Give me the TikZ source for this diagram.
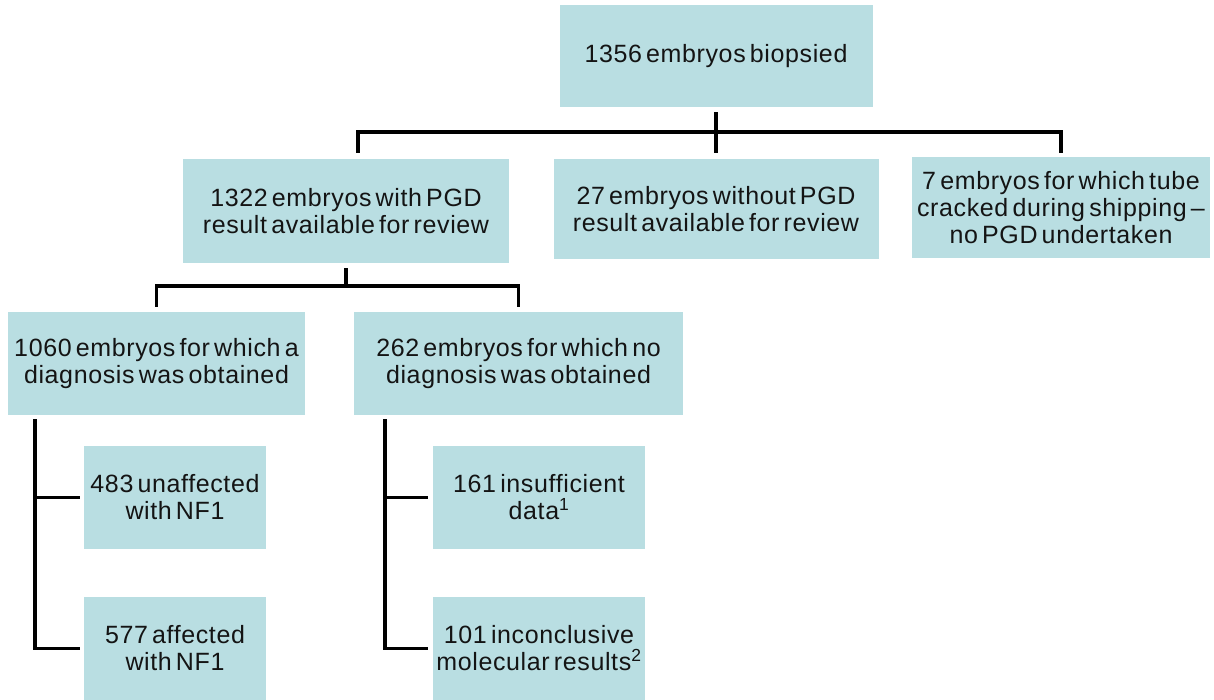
\documentclass[tikz,border=0pt]{standalone}
\usepackage{fontspec}
\setmainfont[WordSpace=0.55, LetterSpace=2.5]{Liberation Sans}
\definecolor{boxfill}{RGB}{185,222,226}
\definecolor{txt}{RGB}{20,20,20}
\begin{document}
\begin{tikzpicture}[x=1pt,y=-1pt,
  box/.style={rectangle, fill=boxfill, draw=none, inner sep=0pt, align=center,
    text=txt, font=\fontsize{25}{27}\selectfont},
  conn/.style={draw=black, line width=3.2pt}]
\useasboundingbox (0,0) rectangle (1214,700);
\fill[white] (0,0) rectangle (1214,700);
% boxes
\node[box, minimum width=313pt, minimum height=102pt] (top) at (716,56) {1356 embryos biopsied};
\node[box, minimum width=326pt, minimum height=104pt] (pgd) at (346,211) {1322 embryos with PGD\\result available for review};
\node[box, minimum width=325pt, minimum height=100pt] (nopgd) at (716,209) {27 embryos without PGD\\result available for review};
\node[box, minimum width=298pt, minimum height=101pt] (crack) at (1061,207.5) {7 embryos for which tube\\cracked during shipping --\\no PGD undertaken};
\node[box, minimum width=297pt, minimum height=103pt] (diag) at (156.5,363.5) {1060 embryos for which a\\diagnosis was obtained};
\node[box, minimum width=329pt, minimum height=103pt] (nodiag) at (518.5,363.5) {262 embryos for which no\\diagnosis was obtained};
\node[box, minimum width=182pt, minimum height=103pt] (unaff) at (175,497.5) {483 unaffected\\with NF1};
\node[box, minimum width=182pt, minimum height=103pt] (aff) at (175,648.5) {577 affected\\with NF1};
\node[box, minimum width=212pt, minimum height=103pt] (insuff) at (539,497.5) {161 insufficient\\data\textsuperscript{1}};
\node[box, minimum width=212pt, minimum height=103pt] (inconc) at (539,648.5) {101 inconclusive\\molecular results\textsuperscript{2}};
% junction coordinates
\coordinate (j1) at (716,132);
\coordinate (l1) at (358,153);
\coordinate (r1) at (1061,153);
\coordinate (j2) at (346,286);
\coordinate (lt) at (35,419);
\coordinate (rt) at (385,419);
% top level
\draw[conn] ([yshift=-5pt]top.south) -- ([yshift=6pt]nopgd.north);
\draw[conn] (l1) |- (j1) -| (r1);
% second level
\draw[conn] ([yshift=-5pt]pgd.south) -- (j2);
\draw[conn] ([yshift=5pt]diag.north) |- (j2) -| ([yshift=5pt]nodiag.north);
% left trunk
\draw[conn] (lt) |- ([xshift=-4pt]aff.west);
\draw[conn] (lt |- unaff.west) -- ([xshift=-4pt]unaff.west);
% right trunk
\draw[conn] (rt) |- ([xshift=-5pt]inconc.west);
\draw[conn] (rt |- insuff.west) -- ([xshift=-5pt]insuff.west);
\end{tikzpicture}
\end{document}
